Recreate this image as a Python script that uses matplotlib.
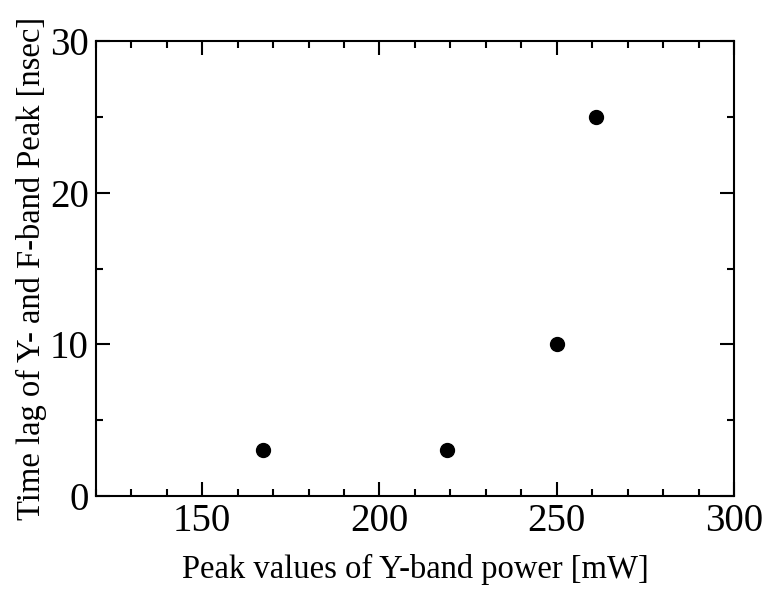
import matplotlib
matplotlib.use("Agg")
import matplotlib.pyplot as plt
from matplotlib.ticker import MultipleLocator

power_mw = [167, 219, 250, 261]
time_lag_ns = [3, 3, 10, 25]

plt.rcParams['font.family'] = ['Liberation Serif', 'DejaVu Serif']

fig = plt.figure(figsize=(7.67, 5.89), dpi=100)
ax = fig.add_axes([0.125, 0.158, 0.832, 0.772])

ax.plot(power_mw, time_lag_ns, 'o', color='black', markersize=10)

ax.set_xlim(120, 300)
ax.set_ylim(0, 30)
ax.xaxis.set_major_locator(MultipleLocator(50))
ax.xaxis.set_minor_locator(MultipleLocator(10))
ax.yaxis.set_major_locator(MultipleLocator(10))
ax.yaxis.set_minor_locator(MultipleLocator(5))
ax.set_xticks([150, 200, 250, 300])

ax.tick_params(which='both', direction='in', top=True, right=True, width=1.5)
ax.tick_params(which='major', length=10, labelsize=28, pad=5)
ax.tick_params(which='minor', length=5)
for s in ax.spines.values():
    s.set_linewidth(1.5)

ax.set_xlabel("Peak values of Y-band power [mW]", fontsize=23.5, labelpad=10)
ax.set_ylabel("Time lag of Y- and F-band Peak [nsec]", fontsize=23.5, labelpad=2)

fig.savefig("out.png", dpi=100)
